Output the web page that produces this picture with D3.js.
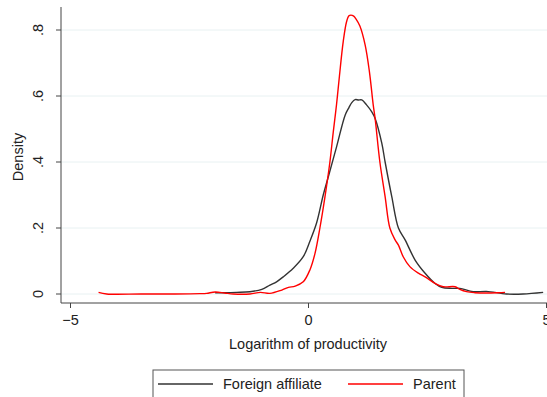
<!DOCTYPE html>
<html><head><meta charset="utf-8">
<script src="https://cdn.jsdelivr.net/npm/d3@7"></script>
<style>body{margin:0;background:#fff}svg{display:block;font-family:"Liberation Sans",Arial,sans-serif}</style>
</head><body><svg id="c" width="547" height="397"></svg>
<script>
const parentX = [-4.4,-4.23,-3.5,-2.8,-2.27,-2.13,-1.95,-1.75,-1.57,-1.22,-1.0,-0.8,-0.55,-0.41,-0.27,-0.10,0.04,0.147,0.25,0.357,0.46,0.53,0.60,0.66,0.74,0.81,0.86,0.90,0.96,1.01,1.09,1.2,1.29,1.37,1.41,1.51,1.62,1.72,1.83,1.90,2.0,2.14,2.32,2.46,2.67,2.84,3.09,3.19,3.33,3.5,3.75,4.0,4.14];
const parentY = [0.005,0.0,0.0,0.0,0.001,0.002,0.006,0.003,0.0,0.0,0.005,0.002,0.012,0.02,0.024,0.037,0.073,0.123,0.2,0.295,0.4,0.49,0.575,0.66,0.765,0.825,0.843,0.845,0.842,0.833,0.812,0.755,0.674,0.573,0.532,0.4,0.295,0.2,0.164,0.148,0.113,0.083,0.063,0.052,0.032,0.022,0.022,0.014,0.007,0.004,0.003,0.004,0.005];
const foreignX = [-1.95,-1.71,-1.5,-1.22,-0.97,-0.8,-0.66,-0.52,-0.31,-0.10,0.04,0.18,0.32,0.43,0.60,0.78,0.86,0.92,0.99,1.06,1.13,1.23,1.34,1.41,1.55,1.62,1.76,1.90,2.04,2.25,2.46,2.67,2.81,3.02,3.19,3.47,3.75,4.17,4.52,4.94];
const foreignY = [0.004,0.004,0.005,0.007,0.014,0.027,0.037,0.052,0.078,0.113,0.16,0.215,0.30,0.357,0.446,0.542,0.565,0.58,0.589,0.588,0.588,0.573,0.552,0.532,0.457,0.4,0.295,0.2,0.164,0.103,0.063,0.032,0.02,0.017,0.017,0.007,0.008,0.0,0.0,0.005];
const xTicks = [-5,0,5];
const yTicks = [0,0.2,0.4,0.6,0.8];
const yTickLabels = ["0",".2",".4",".6",".8"];
const seriesNames = ["Foreign affiliate","Parent"];
const seriesColors = ["#333333","#ff0000"];

const svg = d3.select("#c");
const x = d3.scaleLinear().domain([-5,5]).range([70,546]);
const y = d3.scaleLinear().domain([0,0.8]).range([294,30]);
const axL = 61, axB = 303;
const fs = 14.5;

svg.append("g").selectAll("line").data(yTicks).join("line")
  .attr("x1",axL).attr("x2",547).attr("y1",d=>y(d)).attr("y2",d=>y(d))
  .attr("stroke","#e8f1f2").attr("stroke-width",1);

const ya = svg.append("g").attr("transform",`translate(${axL},0)`)
  .call(d3.axisLeft(y).tickValues(yTicks).tickSize(5).tickFormat((d,i)=>yTickLabels[i]));
ya.select(".domain").attr("d",`M0,7V${axB}`).attr("stroke","#444");
ya.selectAll(".tick line").attr("stroke","#444");
ya.selectAll(".tick text").attr("font-size",fs).attr("fill","#222")
  .attr("transform","rotate(-90)").attr("text-anchor","middle")
  .attr("x",d=>-y(d)).attr("y",-18).attr("dy",0)
  .each(function(d){ d3.select(this.parentNode).attr("transform","translate(0,0)"); d3.select(this.parentNode).select("line").attr("y1",y(d)).attr("y2",y(d)); });

const xa = svg.append("g").attr("transform",`translate(0,${axB})`)
  .call(d3.axisBottom(x).tickValues(xTicks).tickSize(5).tickFormat(d3.format("d")));
xa.select(".domain").attr("d",`M${axL},0H547`).attr("stroke","#444");
xa.selectAll(".tick line").attr("stroke","#444");
xa.selectAll(".tick text").attr("font-size",fs).attr("fill","#222").attr("y",9).attr("dy","0.9em");

svg.append("text").attr("x",308).attr("y",349).attr("text-anchor","middle")
  .attr("font-size",fs).attr("fill","#222").text("Logarithm of productivity");
svg.append("text").attr("transform","translate(23,157) rotate(-90)").attr("text-anchor","middle")
  .attr("font-size",fs).attr("fill","#222").text("Density");

const line = d3.line().x(d=>x(d[0])).y(d=>y(d[1])).curve(d3.curveCatmullRom.alpha(0.5));
const fData = foreignX.map((v,i)=>[v,foreignY[i]]);
const pData = parentX.map((v,i)=>[v,parentY[i]]);
svg.append("path").datum(fData).attr("d",line).attr("fill","none").attr("stroke",seriesColors[0]).attr("stroke-width",1.4);
svg.append("path").datum(pData).attr("d",line).attr("fill","none").attr("stroke",seriesColors[1]).attr("stroke-width",1.4);

svg.append("rect").attr("x",153).attr("y",370).attr("width",311).attr("height",40)
  .attr("fill","#fff").attr("stroke","#555").attr("stroke-width",1);
const lg = [{x1:158,x2:213,tx:223},{x1:348,x2:403,tx:413}];
lg.forEach((l,i)=>{
  svg.append("line").attr("x1",l.x1).attr("x2",l.x2).attr("y1",384).attr("y2",384)
    .attr("stroke",seriesColors[i]).attr("stroke-width",1.4);
  svg.append("text").attr("x",l.tx).attr("y",389).attr("font-size",fs).attr("fill","#222").text(seriesNames[i]);
});
</script></body></html>
